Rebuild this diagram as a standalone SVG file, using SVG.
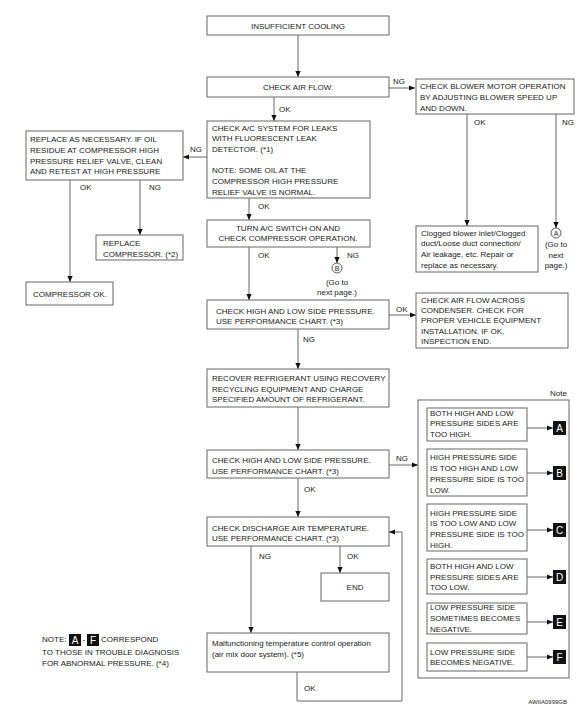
<svg xmlns="http://www.w3.org/2000/svg" width="580" height="719" viewBox="0 0 580 719">
<defs>
<marker id="ah" viewBox="0 0 6 6" refX="6" refY="3" markerWidth="6" markerHeight="6" markerUnits="userSpaceOnUse" orient="auto">
<path d="M0,0.4 L6,3 L0,5.6 z" fill="#111"/>
</marker>
</defs>
<style>
text{font-family:"Liberation Sans",Arial,sans-serif;font-size:8px;fill:#1a1a1a}
.c{text-anchor:middle}
.box{fill:#fff;stroke:#666;stroke-width:1}
.frame{fill:none;stroke:#666;stroke-width:1}
.ln{fill:none;stroke:#666;stroke-width:1}
.ar{fill:none;stroke:#666;stroke-width:1;marker-end:url(#ah)}
.sq{fill:#111}
.sqt{fill:#fff;font-size:10px;text-anchor:middle}
.tiny{font-size:6px}
</style>
<rect width="580" height="719" fill="#fff"/>

<g id="connectors">
<path class="ar" d="M298,35 V77"/>
<path class="ar" d="M389,88 H415"/>
<path class="ar" d="M274,97 V121"/>
<path class="ar" d="M207,157 H183"/>
<path class="ar" d="M70,180 V282"/>
<path class="ar" d="M140,180 V235"/>
<path class="ar" d="M249,198 V220"/>
<path class="ar" d="M467,114 V226"/>
<path class="ar" d="M556,114 V228"/>
<path class="ar" d="M249,247 V300"/>
<path class="ar" d="M337,247 V263"/>
<path class="ar" d="M389,315 H416"/>
<path class="ar" d="M298,329 V369"/>
<path class="ar" d="M298,407 V450"/>
<path class="ar" d="M389,465 H418"/>
<path class="ar" d="M298,478 V517"/>
<path class="ar" d="M251,546 V633"/>
<path class="ar" d="M340,546 V573"/>
<path class="ar" d="M297,672 V701 H402 V532 H389"/>
<path class="ar" d="M527,428 H553"/>
<path class="ar" d="M527,473 H553"/>
<path class="ar" d="M527,530 H553"/>
<path class="ar" d="M527,577 H553"/>
<path class="ar" d="M527,622 H553"/>
<path class="ar" d="M527,657 H553"/>
<text x="393" y="84">NG</text>
<text x="279" y="112">OK</text>
<text x="190" y="152">NG</text>
<text x="80" y="190">OK</text>
<text x="149" y="190">NG</text>
<text x="258" y="209">OK</text>
<text x="474" y="125">OK</text>
<text x="562" y="125">NG</text>
<text x="258" y="258">OK</text>
<text x="347" y="258">NG</text>
<text x="396" y="312">OK</text>
<text x="303" y="342">NG</text>
<text x="396" y="461">NG</text>
<text x="304" y="492">OK</text>
<text x="259" y="559">NG</text>
<text x="347" y="559">OK</text>
<text x="304" y="691">OK</text>
</g>

<g id="n1">
<rect class="box" x="207" y="16" width="182" height="19"/>
<text class="c" x="298" y="29">INSUFFICIENT COOLING</text>
</g>
<g id="n2">
<rect class="box" x="207" y="77" width="182" height="20"/>
<text class="c" x="298" y="90">CHECK AIR FLOW.</text>
</g>
<g id="n3">
<rect class="box" x="416" y="79" width="158" height="35"/>
<text x="420" y="89">CHECK BLOWER MOTOR OPERATION</text>
<text x="420" y="100">BY ADJUSTING BLOWER SPEED UP</text>
<text x="420" y="111">AND DOWN.</text>
</g>
<g id="n4">
<rect class="box" x="207" y="121" width="163" height="77"/>
<text x="212" y="131">CHECK A/C SYSTEM FOR LEAKS</text>
<text x="212" y="141">WITH FLUORESCENT LEAK</text>
<text x="212" y="152">DETECTOR. (*1)</text>
<text x="212" y="173">NOTE: SOME OIL AT THE</text>
<text x="212" y="184">COMPRESSOR HIGH PRESSURE</text>
<text x="212" y="195">RELIEF VALVE IS NORMAL.</text>
</g>
<g id="n5">
<rect class="box" x="26" y="131" width="157" height="49"/>
<text x="30" y="142">REPLACE AS NECESSARY. IF OIL</text>
<text x="30" y="153">RESIDUE AT COMPRESSOR HIGH</text>
<text x="30" y="164">PRESSURE RELIEF VALVE, CLEAN</text>
<text x="30" y="174">AND RETEST AT HIGH PRESSURE</text>
</g>
<g id="n6">
<rect class="box" x="96" y="235" width="87" height="25"/>
<text x="103" y="246">REPLACE</text>
<text x="103" y="257">COMPRESSOR. (*2)</text>
</g>
<g id="n7">
<rect class="box" x="26" y="282" width="87" height="23"/>
<text class="c" x="70" y="297">COMPRESSOR OK.</text>
</g>
<g id="n8">
<rect class="box" x="207" y="220" width="163" height="27"/>
<text class="c" x="288" y="231">TURN A/C SWITCH ON AND</text>
<text class="c" x="288" y="241">CHECK COMPRESSOR OPERATION.</text>
</g>
<g id="n9">
<rect class="box" x="416" y="226" width="122" height="46"/>
<text x="421" y="236">Clogged blower inlet/Clogged</text>
<text x="421" y="246">duct/Loose duct connection/</text>
<text x="421" y="257">Air leakage, etc. Repair or</text>
<text x="421" y="268">replace as necessary.</text>
</g>
<g id="nA">
<circle cx="556" cy="233" r="5" fill="#fff" stroke="#333" stroke-width="0.8"/>
<text class="c" x="556" y="236" style="font-size:7px">A</text>
<text class="c" x="556" y="247">(Go to</text>
<text class="c" x="556" y="258">next</text>
<text class="c" x="556" y="268">page.)</text>
</g>
<g id="nB">
<circle cx="337" cy="268" r="5" fill="#fff" stroke="#333" stroke-width="0.8"/>
<text class="c" x="337" y="271" style="font-size:7px">B</text>
<text class="c" x="337" y="285">(Go to</text>
<text class="c" x="337" y="295">next page.)</text>
</g>
<g id="n10">
<rect class="box" x="207" y="300" width="182" height="29"/>
<text x="216" y="314">CHECK HIGH AND LOW SIDE PRESSURE.</text>
<text x="216" y="324">USE PERFORMANCE CHART. (*3)</text>
</g>
<g id="n11">
<rect class="box" x="416" y="293" width="152" height="55"/>
<text x="421" y="303">CHECK AIR FLOW ACROSS</text>
<text x="421" y="313">CONDENSER. CHECK FOR</text>
<text x="421" y="323">PROPER VEHICLE EQUIPMENT</text>
<text x="421" y="334">INSTALLATION. IF OK,</text>
<text x="421" y="344">INSPECTION END.</text>
</g>
<g id="n12">
<rect class="box" x="207" y="369" width="182" height="38"/>
<text x="212" y="381">RECOVER REFRIGERANT USING RECOVERY</text>
<text x="212" y="392">RECYCLING EQUIPMENT AND CHARGE</text>
<text x="212" y="402">SPECIFIED AMOUNT OF REFRIGERANT.</text>
</g>
<g id="n13">
<rect class="box" x="207" y="450" width="182" height="28"/>
<text x="212" y="463">CHECK HIGH AND LOW SIDE PRESSURE.</text>
<text x="212" y="474">USE PERFORMANCE CHART. (*3)</text>
</g>
<g id="n14">
<rect class="box" x="207" y="517" width="182" height="29"/>
<text x="212" y="531">CHECK DISCHARGE AIR TEMPERATURE.</text>
<text x="212" y="541">USE PERFORMANCE CHART. (*3)</text>
</g>
<g id="n15">
<rect class="box" x="321" y="573" width="68" height="28"/>
<text class="c" x="355" y="590">END</text>
</g>
<g id="n16">
<rect class="box" x="207" y="633" width="182" height="39"/>
<text x="212" y="646">Malfunctioning temperature control operation</text>
<text x="212" y="657">(air mix door system). (*5)</text>
</g>

<g id="note">
<text x="567" y="396" style="text-anchor:end">Note</text>
<rect class="frame" x="418" y="400" width="151" height="278"/>
<rect class="box" x="427" y="408" width="100" height="33"/>
<text x="430" y="416">BOTH HIGH AND LOW</text>
<text x="430" y="426">PRESSURE SIDES ARE</text>
<text x="430" y="437">TOO HIGH.</text>
<rect class="box" x="427" y="449" width="100" height="47"/>
<text x="430" y="460">HIGH PRESSURE SIDE</text>
<text x="430" y="471">IS TOO HIGH AND LOW</text>
<text x="430" y="482">PRESSURE SIDE IS TOO</text>
<text x="430" y="493">LOW.</text>
<rect class="box" x="427" y="504" width="100" height="47"/>
<text x="430" y="516">HIGH PRESSURE SIDE</text>
<text x="430" y="526">IS TOO LOW AND LOW</text>
<text x="430" y="537">PRESSURE SIDE IS TOO</text>
<text x="430" y="548">HIGH.</text>
<rect class="box" x="427" y="559" width="100" height="35"/>
<text x="430" y="569">BOTH HIGH AND LOW</text>
<text x="430" y="580">PRESSURE SIDES ARE</text>
<text x="430" y="590">TOO LOW.</text>
<rect class="box" x="427" y="603" width="100" height="31"/>
<text x="430" y="610">LOW PRESSURE SIDE</text>
<text x="430" y="621">SOMETIMES BECOMES</text>
<text x="430" y="632">NEGATIVE.</text>
<rect class="box" x="427" y="643" width="100" height="28"/>
<text x="430" y="655">LOW PRESSURE SIDE</text>
<text x="430" y="665">BECOMES NEGATIVE.</text>
<rect class="sq" x="553" y="421" width="13" height="14"/><text class="sqt" x="559.5" y="432">A</text>
<rect class="sq" x="553" y="466" width="13" height="14"/><text class="sqt" x="559.5" y="477">B</text>
<rect class="sq" x="553" y="523" width="13" height="14"/><text class="sqt" x="559.5" y="534">C</text>
<rect class="sq" x="553" y="570" width="13" height="14"/><text class="sqt" x="559.5" y="581">D</text>
<rect class="sq" x="553" y="615" width="13" height="14"/><text class="sqt" x="559.5" y="626">E</text>
<rect class="sq" x="553" y="650" width="13" height="14"/><text class="sqt" x="559.5" y="661">F</text>
</g>

<g id="footnote">
<text x="42" y="642">NOTE:</text>
<rect class="sq" x="69" y="634" width="12" height="12"/><text class="sqt" x="75" y="644">A</text>
<text x="82.5" y="642">-</text>
<rect class="sq" x="87" y="634" width="12" height="12"/><text class="sqt" x="93" y="644">F</text>
<text x="101" y="642">CORRESPOND</text>
<text x="42" y="655">TO THOSE IN TROUBLE DIAGNOSIS</text>
<text x="42" y="666">FOR ABNORMAL PRESSURE. (*4)</text>
<text class="tiny" x="567" y="704" style="text-anchor:end">AWIIA0999GB</text>
</g>
</svg>
